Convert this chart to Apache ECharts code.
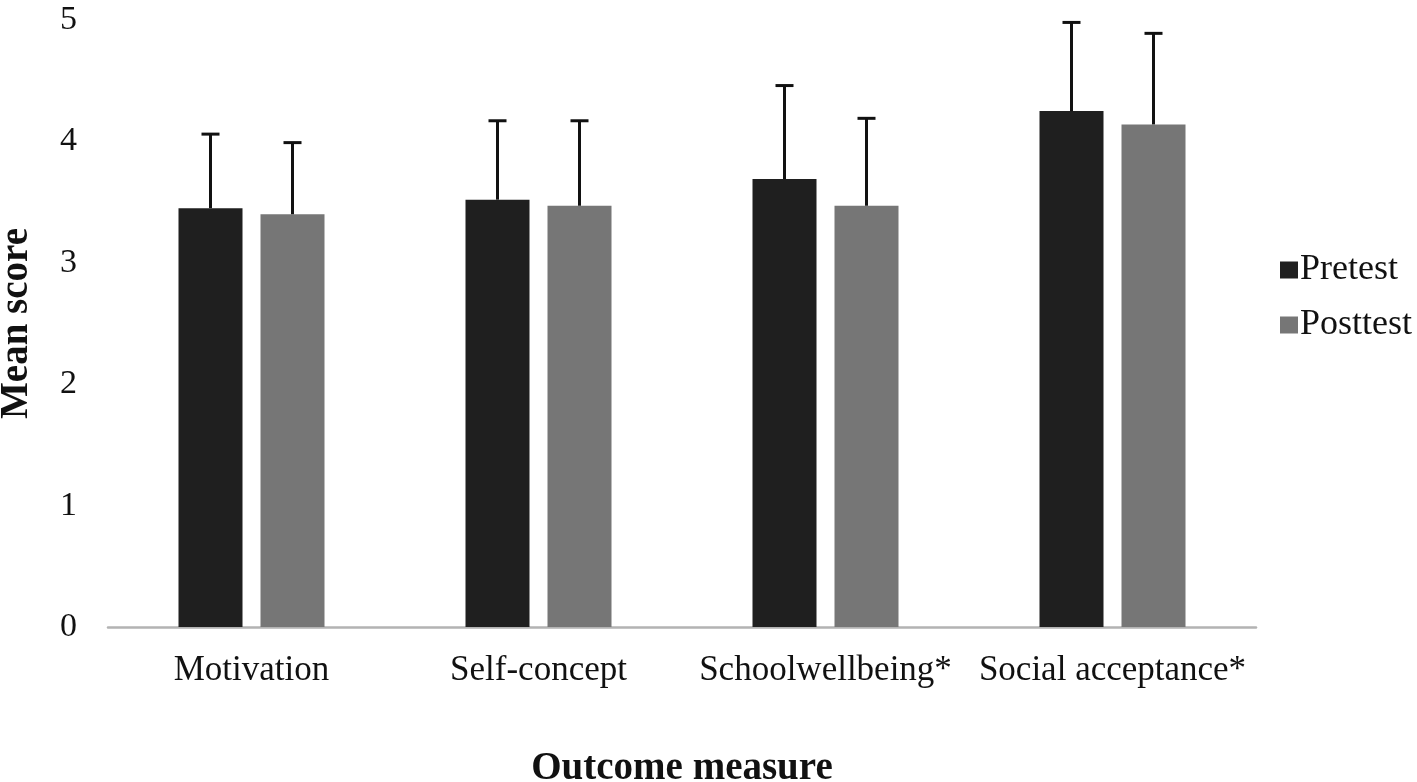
<!DOCTYPE html>
<html style="height: 100%">
<head>
  <meta charset="utf-8">
  <title>Mean score by outcome measure</title>
  <script src="https://cdn.jsdelivr.net/npm/echarts@6.0.0/dist/echarts.min.js"></script>
</head>
<body style="margin:0;height:100%;background:#fff">
  <div id="main" style="width:1417px;height:782px"></div>
  <script>
    var categories = ['Motivation', 'Self-concept', 'Schoolwellbeing*', 'Social acceptance*'];
    var pretest = [3.45, 3.52, 3.69, 4.25];
    var posttest = [3.40, 3.47, 3.47, 4.14];
    // upper error (SD) above each bar
    var pretestSD = [0.61, 0.65, 0.77, 0.73];
    var posttestSD = [0.59, 0.70, 0.72, 0.75];
    var yTicks = [0, 1, 2, 3, 4, 5];

    var font = "'Liberation Serif', 'Times New Roman', serif";
    var barW = 64, barGapPx = 18;
    var chart = echarts.init(document.getElementById('main'));

    function errorSeries(name, means, sds, side) {
      return {
        type: 'custom',
        name: name,
        z: 5,
        data: means.map(function (m, i) { return [i, m, m + sds[i]]; }),
        renderItem: function (params, api) {
          var off = side * (barW + barGapPx) / 2;
          var lo = api.coord([api.value(0), api.value(1)]);
          var hi = api.coord([api.value(0), api.value(2)]);
          var x = lo[0] + off;
          var style = { stroke: '#111', lineWidth: 3 };
          return {
            type: 'group',
            children: [
              { type: 'line', shape: { x1: x, y1: lo[1], x2: x, y2: hi[1] }, style: style },
              { type: 'line', shape: { x1: x - 9, y1: hi[1], x2: x + 9, y2: hi[1] }, style: style }
            ]
          };
        }
      };
    }

    chart.setOption({
      animation: false,
      textStyle: { fontFamily: font, color: '#111' },
      grid: { left: 108, right: 161, top: 20, bottom: 155, containLabel: false, outerBoundsMode: 'none' },
      legend: {
        data: ['Pretest', 'Posttest'],
        orient: 'vertical',
        left: 1275,
        top: 247,
        icon: 'rect',
        itemWidth: 18,
        itemHeight: 17,
        itemGap: 19,
        textStyle: { fontFamily: font, fontSize: 36, color: '#111', padding: [0, 0, 0, -3] }
      },
      xAxis: {
        type: 'category',
        data: categories,
        name: 'Outcome measure',
        nameLocation: 'middle',
        nameGap: 122,
        nameTextStyle: { fontFamily: font, fontSize: 39, fontWeight: 'bold', color: '#111' },
        axisLine: { lineStyle: { color: '#b3b3b3', width: 2.5 } },
        axisTick: { show: false },
        axisLabel: { fontFamily: font, fontSize: 35, color: '#111', margin: 26, interval: 0 }
      },
      yAxis: {
        type: 'value',
        min: yTicks[0],
        max: yTicks[yTicks.length - 1],
        interval: 1,
        name: 'Mean score',
        nameLocation: 'middle',
        nameGap: 72,
        nameRotate: 90,
        nameTextStyle: { fontFamily: font, fontSize: 39, fontWeight: 'bold', color: '#111' },
        axisLine: { show: false },
        axisTick: { show: false },
        splitLine: { show: false },
        axisLabel: { fontFamily: font, fontSize: 34, color: '#111', margin: 31 }
      },
      series: [
        {
          type: 'bar', name: 'Pretest', data: pretest,
          barWidth: barW, barGap: (barGapPx / barW * 100) + '%',
          itemStyle: { color: '#1f1f1f' }
        },
        {
          type: 'bar', name: 'Posttest', data: posttest,
          barWidth: barW,
          itemStyle: { color: '#767676' }
        },
        errorSeries('Pretest SD', pretest, pretestSD, -1),
        errorSeries('Posttest SD', posttest, posttestSD, 1)
      ]
    });
  </script>
</body>
</html>
